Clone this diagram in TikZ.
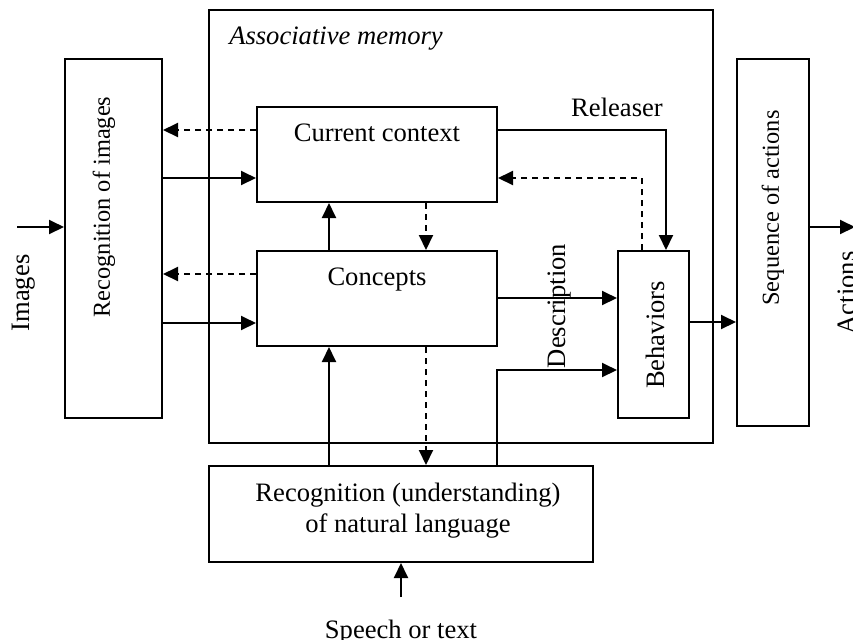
\documentclass[tikz,border=0pt]{standalone}
\usepackage{fontspec}
\setmainfont{Liberation Serif}
\usetikzlibrary{arrows.meta,positioning}

\begin{document}
\begin{tikzpicture}
  [
  x=0.5pt, y=-0.5pt,
  font=\fontsize{13.3}{15.5}\selectfont, line width=1pt, draw=black,
  >={Triangle[length=7.5pt,width=7pt]},
  box/.style={rectangle, draw=black, inner sep=0pt},
  ctxbox/.style={box, minimum width=120pt, minimum height=47.5pt},
  vtext/.style={rotate=90, inner sep=0pt},
  vsmall/.style={vtext, font=\fontsize{12.2}{14}\selectfont},
  fb/.style={dash pattern=on 3pt off 2.5pt}
  ]

\useasboundingbox (0,0) rectangle (853,639);

\node[box, minimum width=252pt, minimum height=216.5pt] (mem) at (461,226.5) {};
\node[inner sep=0pt, font=\fontsize{13.3}{15.5}\selectfont\itshape] (memlabel) at (336,39) {Associative memory};

\node[box, minimum width=48.5pt, minimum height=179.5pt] (imgrec) at (113.5,238.5) {};
\node[vsmall] (imgrectxt) at (104,207) {Recognition of images};

\node[ctxbox] (context) at (377,154.5) {};
\node[inner sep=0pt] (contexttxt) at (377,133) {Current context};
\node[ctxbox] (concepts) at (377,298.5) {};
\node[inner sep=0pt] (conceptstxt) at (377,279.5) {Concepts};

\node[box, minimum width=35.5pt, minimum height=83.5pt] (behav) at (653.5,334.5) {};
\node[vtext] (behavtxt) at (655,335) {Behaviors};

\node[box, minimum width=36pt, minimum height=183.5pt] (seq) at (773,242.5) {};
\node[vsmall] (seqtxt) at (773,208) {Sequence of actions};

\node[box, minimum width=192pt, minimum height=48pt] (natlang) at (401,514) {};
\node[inner sep=0pt, align=center] (natlangtxt) at (408,511) {Recognition (understanding)\\of natural language};

\node[vtext, anchor=base] (images) at (30,293) {Images};
\node[vtext, anchor=base] (actions) at (855,293) {Actions};
\node[inner sep=0pt, anchor=base] (speech) at (401,638) {Speech or text};
\node[inner sep=0pt] (releaser) at (617,107) {Releaser};
\node[vtext] (desc) at (560,306) {Description};

\coordinate (imgin) at (17,227);
\coordinate (actout) at (855,227);
\coordinate (speechin) at (401,597);

\draw[->] (imgin) -- (imgin -| imgrec.west);
\draw[->] (seq.east |- actout) -- (actout);
\draw[->] (speechin) -- (speechin |- natlang.south);

\foreach \n/\d/\s in {context/130/178, concepts/274/323} {
  \draw[->,fb] (\n.west |- 0,\d) -- (imgrec.east |- 0,\d);
  \draw[->] (imgrec.east |- 0,\s) -- (\n.west |- 0,\s);
}

\draw[->] (concepts.north -| 329,0) -- (context.south -| 329,0);
\draw[->,fb] (context.south -| 426,0) -- (concepts.north -| 426,0);
\draw[->] (natlang.north -| 329,0) -- (concepts.south -| 329,0);
\draw[->,fb] (concepts.south -| 426,0) -- (natlang.north -| 426,0);

\draw[->] (context.east |- 0,130) -| (behav.north -| 666,0);
\draw[->,fb] (behav.north -| 642,0) |- (context.east |- 0,178);
\draw[->] (concepts.east |- 0,298) -- (behav.west |- 0,298);
\draw[->] (natlang.north -| 497,0) |- (behav.west |- 0,370);
\draw[->] (behav.east |- 0,322) -- (seq.west |- 0,322);
\end{tikzpicture}
\end{document}
